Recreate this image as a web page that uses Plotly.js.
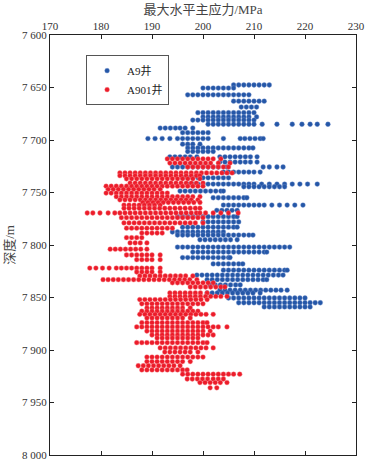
<!DOCTYPE html>
<html>
<head>
<meta charset="utf-8">
<script src="https://cdn.plot.ly/plotly-3.0.1.min.js"></script>
<style>html,body{margin:0;padding:0;background:#fff;}#chart{width:369px;height:465px;}</style>
</head>
<body>
<div id="chart"></div>
<script>
// Series names
const seriesNames = ['A9井', 'A901井'];

// A9井: depth of each band (m) and the stress values read along that band (MPa)
const a9Depth = [7647.6, 7650.5, 7657, 7663, 7668.6, 7674, 7678, 7681, 7685, 7688.6, 7693, 7698.6, 7704, 7707.6, 7711, 7716, 7721, 7725.7, 7730.5, 7736, 7742, 7744.5, 7748.6, 7755, 7762, 7767, 7773, 7778, 7783, 7787.6, 7790.5, 7795, 7802, 7806.7, 7812, 7818, 7824, 7828.6, 7833, 7838, 7843, 7845.7, 7850.5, 7855, 7859];
const a9Stress = [
  [206,207,208,209,210,211,212,213],
  [200,201,202,203,204,205,206],
  [197,198,199,200,201,202,203,204,205,206,207,208,209],
  [206,207,208,209,210,211,212],
  [207.5,208.5,209.5,210.5],
  [199,200,201,202,203,204,205,206,207,208,209,210],
  [200,201,202,203,204,205,206,207,208,209,210.5],
  [198,199,200,201,202,203,204,205,206,207,208,209,210],
  [201,202,203,204,205,206,207,208,209,210,211.6,214.5,217.5,219.4,221,222.4,224.5],
  [191.6,192.6,193.6,194.6,195.5,196.5,198],
  [196,197,198,199,200,201],
  [189.2,190.6,192,193.5,195,196,197,198,199,200,201,204,207.3,208.2,209.2,210.2,211.2,211.8],
  [196,197,198,199.4],
  [197,198,199,200,201,202,203,204,205,206,207,208,209,209.8],
  [197,198,199,200,201,202],
  [193.5,194.5,195.5,196.5,197.5,198.8,203.3,204.3,205.3,206.3,207.3,208.3,209.3,210.6],
  [203.3,204.3,205.3,206.3,207.3,208.3,209.3,210.6],
  [194,195,196,197,198,199,200,201,202,203,204.7,211.8,213,214.5,215.7],
  [204,205,206,207,208,209,210,211.2],
  [196,197,198,199,200,201,202,203,204,205],
  [197,198,199,200,201,202,203,204,205,206,207,208,209,210,211.5,213,214.5,216,217.5,219,220.5,222.4],
  [208,209,210,211,212,213,214,215,216],
  [195.5,196.5,197.5,198.5,199.5,200.5,201.5,202.5,203.5,204],
  [202,203,204,205,206,207,208,208.6],
  [204,205,206,207,208,209,210,211,212,213.5,215,216.5,218,219.6],
  [202.7,203.7,204.7,205.7,206.7],
  [195,196,197,198,199,200,201,202,203,204,205,206,206.7],
  [200,201,202,203,204,205,206,207],
  [196,197,198,199,200,201,202,203,204,205,206,206.7],
  [194,195,196,197,198,199,200,201,202,203,204],
  [195,196,197,198,199,200,201,202,203,204,205,206,207,208,209,209.8],
  [199.4,200.4,201.4,202.4,203.4,204.4,205.4,206.7],
  [195,196,197,198,199,200,201,202,203,204,205,206,207,208,209,210,211,212,213,214,215,216,217],
  [198,199,200,201,202,203,204,205,206,207,208,209,210,211,212,212.5],
  [196,197,198,199,200,201,202,203,204,205,205.3],
  [202,203,204,205,206,207,207.8],
  [204,205,206,207,208,209,210,211,212,213,214,215,216,216.5],
  [198.8,199.8,200.8,201.8,202.8,203.8,204.8,205.8,206.8,207.8,208.8,209.8,210.8,211.8,212.8,213.8,214.8,215.7],
  [200.8,201.8,202.8,203.8,204.8,205.8,206.8,207.8,208.8,209.8,210.8,211.8,212.5],
  [201.4,202.4,203.4,204.4,205.4,206.4,207.3],
  [203.3,204.3,205.3,206.3,207.3,208.3,209.3,210.3,211.3,212.3,213.3,214.3,215.3,216.5],
  [200.8,201.8,202.8,203.8,204.8,205.8,206.8,207.8,208.8,209.8,211.2],
  [205,206,207,208,209,210,211,212,213,214,215,216,217,218,219,220],
  [207,208,209,210,211,212,213,214,215,216,217,218,219,220,221,222,223],
  [212,213,214,215,216,217,218,219,220,221]
];

// A901井: depth of each band (m) and the stress values read along that band (MPa)
const a901Depth = [7718, 7722, 7725.7, 7731.4, 7734, 7737, 7741, 7744, 7747, 7750.5, 7754, 7757, 7759.5, 7762, 7765, 7769.5, 7774, 7779, 7784, 7788.6, 7793, 7798, 7804, 7809.5, 7814, 7822, 7825.7, 7829.5, 7833, 7836, 7840, 7845.7, 7849, 7852, 7856, 7860, 7863, 7866, 7869.5, 7874, 7878, 7882, 7885.7, 7888.6, 7893, 7898, 7902, 7906.7, 7911, 7915, 7919, 7923, 7927.6, 7931, 7936];
const a901Stress = [
  [193,194,195,196,197,198,199,200,201,202,203.5],
  [193.5,194.5,195.5,196.5,197.5,198.5,199.5,200.5,201.5,203,205.3],
  [197,198,199,200,201,202,203,204,205],
  [183.7,184.7,185.7,186.7,187.7,188.7,189.7,190.7,191.7,192.7,193.7,194.7,195.7,196.7,197.7,198.7,199.7,200.7,201.7,202.7,203.7,204.7,205.7],
  [183.7,184.7,185.7,186.7,187.7,188.7,189.7,190.7,191.7,192.7,193.7,194.7,195.7,196.7,197.7,198.7,199.4],
  [185,186,187,188,189,190,191,192,193,194,195,196,197,198,199.4],
  [185.7,186.7,187.7,188.7,189.7,190.7,191.7,192.7,193.7,194.7,195.7,196.7,197.7,198.7,200],
  [181,182,183,184,185,186,187,188,189,190,191,192,193,194,195,196,197,198,199,200],
  [181.4,182.4,183.4,184.4,185.4,186.4,187.4,188.4,189.4,190.4,191.6],
  [181,182,183,184,185,186,187,188,189,190,191,192,193],
  [183,184,185,186,187,188,189,190,191,192,193,194,195,196,197,198,199.4],
  [183.7,184.7,185.7,186.7,187.7,188.7,189.7,190.7,191.7,192.7,193.7,194.7,195.7,196.7,197.7,199],
  [188.2,189.2,190.2,191.2,192.2,193.2,194.2,195.2,196.2,197.2,198.2,199.4],
  [184.5,185.5,186.5,187.5,188.5,189.5,190.5,191.6],
  [184.5,185.5,186.5,187.5,188.5,189.5,190.5,191.5,192.5,193.5,194.5,195.5,196.5,197.5,198.5,199.4],
  [177.3,178.4,179.8,181.4,182.7,183.7,184.7,185.7,186.7,187.7,188.7,189.7,190.7,191.7,192.7,193.7,194.7,195.7,196.7,197.7,198.7,199.4,200.5,202,203.5,205,206.9],
  [184,185,186,187,188,189,190,191,192,193,194,195,196,197,198,199,200],
  [184.5,185.5,186.5,187.5,188.5,189.5,190.5,191.5,192.5,193.5,194.5,195.5,196.5,197.5,198.5,200],
  [185,186,187,188,189,190,191,192,193,194],
  [188,189,190,191,192],
  [185,186,187,188],
  [185.7,186.7,187.7,189],
  [181.8,182.8,183.8,184.8,185.8,186.8,187.8,189],
  [185,186,187,188,189,190,191.6],
  [187,188,189,190,191.6],
  [177.8,179,180.3,181.6,183,184,185,186,187,188,189,190,191.6],
  [187,188,189,190,191.6],
  [187.6,188.6,189.6,190.6,191.6,192.6,193.6,194.6,195.6,196.6,198],
  [180.4,181.4,182.4,183.4,184.4,185.4,186.4,187.4,188.4,189.4,190.4,191.4,192.4,193.4,194.4,195.4,196.4,197.4,198.8],
  [194,195,196,197,198,199,200,201,202],
  [197.5,198.5,199.5,200.5,201.5,202.5,203.5,204.3],
  [193.5,194.5,195.5,196.5,197.5,198.5,199.5,200.8],
  [193.5,194.5,195.5,196.5,197.5,198.5,199.5,200.5,201.5,202.5,203.5,204.7],
  [187.6,188.6,189.6,190.6,191.6,192.6,193.6,194.6,195.6,196.6,197.6,198.6,199.6,200.8],
  [188,189,190,191,192,193,194,195,196,197,198,199,200],
  [189,190,191,192,193,194,195,196,197.5],
  [188,189,190,191,192,193,194,195,196,197,198,199],
  [187.6,188.6,189.6,190.6,191.6,192.6,193.6,194.6,195.6,196.6,197.6,198.6,199.6,200.6,202],
  [189,190,191,192,193,194,195,196,197.5],
  [188,189,190,191,192,193,194,195,196,197,198,199,200,200.8],
  [187,188,189,190,191,192,193,194,195,196,197,198,199,200,201,202,203,204.7],
  [189,190,191,192,193,194,195,196,197,198,199,200,201.4],
  [190,191,192,193,194,195,196,197,198,199,200,201,202],
  [191,192,193,194,195,196,197,198,199],
  [187,188,189,190,191,192,193,194,195,196,197,198,199,200,200.8],
  [191.6,192.6,193.6,194.6,195.6,196.6,197.6,198.6,199.6,200.6,202],
  [192.5,193.5,194.5,195.5,196.5,197.5,199],
  [189,190,191,192,193,194,195,196,197,198,199,200],
  [189,190,191,192,193,194,195,196,197.5],
  [187.3,188.3,189.3,190.3,191.3,192.3,193.3,194.3,195.5],
  [188,189,190,191,192,193,194,195,196,196.9],
  [196,197,198,199,200,201,202,203,204,205,206,207.2],
  [196.9,197.9,198.9,199.9,200.9,202,203,204],
  [199.4,200.4,201.4,202.4,203.4,204.7],
  [201.4,202.7]
];

// Axis ticks
const depthTicks = [7600, 7650, 7700, 7750, 7800, 7850, 7900, 7950, 8000];
const depthTickText = ['7 600', '7 650', '7 700', '7 750', '7 800', '7 850', '7 900', '7 950', '8 000'];
const stressTicks = [170, 180, 190, 200, 210, 220, 230];

function flatten(depths, bands) {
  const x = [], y = [];
  bands.forEach((vals, i) => vals.forEach(v => { x.push(v); y.push(depths[i]); }));
  return {x, y};
}
const a9 = flatten(a9Depth, a9Stress);
const a901 = flatten(a901Depth, a901Stress);

const FONT = 'Liberation Serif, "Times New Roman", "Noto Sans CJK SC", serif';

const traces = [
  {x: a9.x, y: a9.y, type: 'scatter', mode: 'markers', name: seriesNames[0],
   marker: {color: '#2557a7', size: 4.8, line: {width: 0.4, color: '#7493cf'}}},
  {x: a901.x, y: a901.y, type: 'scatter', mode: 'markers', name: seriesNames[1],
   marker: {color: '#ec1c2a', size: 4.8, line: {width: 0.4, color: '#f7868c'}}}
];

const layout = {
  width: 369, height: 465,
  margin: {l: 50, r: 13, t: 35, b: 10},
  paper_bgcolor: '#fff', plot_bgcolor: '#fff',
  font: {family: FONT, size: 11, color: '#222'},
  showlegend: true,
  legend: {x: 0.118, y: 0.952, xanchor: 'left', yanchor: 'top',
    bgcolor: '#fff', bordercolor: '#555', borderwidth: 1,
    font: {family: FONT, size: 11, color: '#222'},
    tracegroupgap: 2, itemwidth: 30},
  xaxis: {side: 'top', range: [170, 230], tickvals: stressTicks,
    ticks: 'inside', ticklen: 4, tickcolor: '#222', mirror: 'ticks',
    showline: true, linecolor: '#222', linewidth: 1, showgrid: false, zeroline: false,
    tickfont: {family: FONT, size: 11, color: '#333'},
    title: {text: '最大水平主应力/MPa', standoff: 2, font: {family: FONT, size: 13, color: '#444'}}},
  yaxis: {range: [8000, 7600], tickvals: depthTicks, ticktext: depthTickText,
    ticks: 'inside', ticklen: 4, tickcolor: '#222', mirror: 'ticks',
    showline: true, linecolor: '#222', linewidth: 1, showgrid: false, zeroline: false,
    tickfont: {family: FONT, size: 11, color: '#333'},
    title: {text: '深度/m', standoff: 4, font: {family: FONT, size: 13, color: '#444'}}}
};

Plotly.newPlot('chart', traces, layout, {displayModeBar: false, staticPlot: true});
</script>
</body>
</html>
